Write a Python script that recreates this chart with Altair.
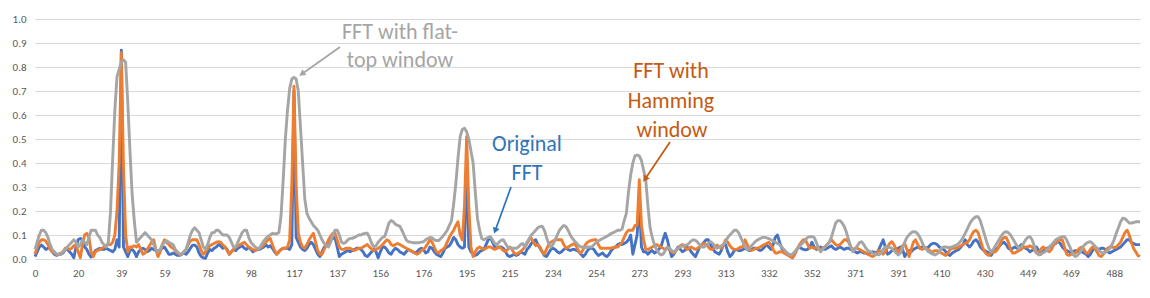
import math
import altair as alt
import pandas as pd

# FFT magnitude per bin (bin k -> k*1000/1024 Hz)
gray = [
0.04,0.07,0.1,0.12,0.12,0.11,0.09,0.06,0.04,0.03,
0.02,0.02,0.02,0.03,0.04,0.05,0.06,0.07,0.08,0.07,
0.05,0.06,0.08,0.07,0.06,0.09,0.12,0.12,0.12,0.1,
0.09,0.07,0.06,0.05,0.07,0.2,0.42,0.62,0.76,0.79,
0.82,0.83,0.82,0.65,0.45,0.27,0.16,0.07,0.08,0.09,
0.1,0.11,0.1,0.09,0.08,0.06,0.04,0.03,0.04,0.06,
0.07,0.076,0.07,0.065,0.06,0.04,0.03,0.02,0.02,0.03,
0.04,0.07,0.1,0.12,0.13,0.12,0.11,0.08,0.05,0.04,
0.06,0.09,0.11,0.11,0.12,0.12,0.11,0.1,0.1,0.1,
0.09,0.07,0.05,0.05,0.07,0.09,0.11,0.12,0.12,0.09,
0.07,0.06,0.05,0.045,0.045,0.06,0.075,0.086,0.095,0.1,
0.107,0.105,0.105,0.11,0.18,0.33,0.5,0.62,0.71,0.75,
0.757,0.75,0.7,0.55,0.4,0.25,0.19,0.17,0.155,0.14,
0.13,0.12,0.1,0.08,0.065,0.055,0.05,0.07,0.1,0.12,
0.12,0.1,0.07,0.065,0.07,0.08,0.086,0.086,0.09,0.095,
0.1,0.1,0.105,0.107,0.107,0.09,0.065,0.05,0.055,0.07,
0.08,0.09,0.093,0.12,0.15,0.16,0.155,0.145,0.14,0.137,
0.12,0.1,0.08,0.072,0.07,0.068,0.068,0.068,0.068,0.07,
0.072,0.08,0.085,0.09,0.088,0.08,0.077,0.076,0.085,0.095,
0.107,0.12,0.14,0.16,0.23,0.315,0.42,0.51,0.54,0.545,
0.53,0.5,0.45,0.4,0.28,0.17,0.12,0.085,0.08,0.085,
0.09,0.093,0.08,0.065,0.06,0.07,0.078,0.08,0.065,0.05,
0.045,0.045,0.045,0.045,0.05,0.06,0.065,0.05,0.07,0.085,
0.1,0.11,0.12,0.13,0.135,0.137,0.12,0.09,0.065,0.05,
0.06,0.08,0.1,0.12,0.13,0.14,0.135,0.12,0.1,0.086,
0.075,0.065,0.055,0.05,0.05,0.048,0.05,0.05,0.05,0.06,
0.07,0.075,0.08,0.085,0.09,0.095,0.1,0.107,0.11,0.115,
0.12,0.12,0.124,0.16,0.19,0.28,0.35,0.4,0.43,0.433,
0.43,0.41,0.37,0.33,0.22,0.13,0.09,0.06,0.04,0.025,
0.017,0.02,0.035,0.05,0.045,0.035,0.03,0.035,0.045,0.05,
0.055,0.058,0.058,0.065,0.075,0.08,0.078,0.07,0.06,0.05,
0.05,0.058,0.065,0.072,0.065,0.055,0.045,0.05,0.055,0.06,
0.07,0.09,0.1,0.11,0.12,0.12,0.11,0.09,0.07,0.05,
0.04,0.045,0.055,0.065,0.075,0.08,0.085,0.09,0.09,0.088,
0.085,0.08,0.075,0.07,0.065,0.06,0.05,0.04,0.03,0.022,
0.017,0.02,0.03,0.04,0.05,0.06,0.07,0.08,0.09,0.093,
0.093,0.09,0.07,0.045,0.03,0.04,0.05,0.06,0.07,0.09,
0.12,0.15,0.16,0.16,0.15,0.135,0.11,0.08,0.05,0.03,
0.04,0.055,0.068,0.072,0.06,0.045,0.035,0.03,0.025,0.02,
0.018,0.017,0.025,0.04,0.05,0.05,0.048,0.045,0.035,0.025,
0.017,0.025,0.045,0.07,0.09,0.1,0.11,0.114,0.113,0.105,
0.09,0.07,0.05,0.04,0.03,0.025,0.02,0.017,0.022,0.03,
0.045,0.05,0.05,0.048,0.048,0.05,0.055,0.058,0.065,0.075,
0.09,0.107,0.125,0.145,0.16,0.17,0.176,0.176,0.16,0.13,
0.1,0.07,0.045,0.03,0.04,0.055,0.07,0.085,0.1,0.11,
0.114,0.11,0.1,0.085,0.07,0.055,0.045,0.05,0.065,0.08,
0.09,0.093,0.08,0.055,0.03,0.017,0.02,0.025,0.03,0.04,
0.05,0.06,0.07,0.08,0.085,0.09,0.093,0.093,0.08,0.06,
0.04,0.02,0.01,0.015,0.025,0.04,0.055,0.065,0.07,0.072,
0.065,0.055,0.045,0.035,0.028,0.024,0.028,0.035,0.045,0.06,
0.08,0.107,0.13,0.155,0.17,0.168,0.16,0.15,0.15,0.152,
0.155,0.155,0.155,
]

orange = [
0.02,0.05,0.07,0.08,0.08,0.075,0.06,0.04,0.03,0.025,
0.02,0.02,0.025,0.03,0.045,0.045,0.04,0.045,0.055,0.06,
0.03,0.005,0.06,0.1,0.107,0.09,0.03,0.01,0.03,0.035,
0.04,0.045,0.05,0.055,0.06,0.06,0.07,0.1,0.2,0.4,
0.86,0.38,0.1,0.03,0.05,0.05,0.055,0.05,0.06,0.04,
0.02,0.025,0.04,0.055,0.07,0.08,0.04,0.01,0.03,0.06,
0.08,0.07,0.06,0.05,0.045,0.035,0.025,0.02,0.02,0.03,
0.04,0.06,0.075,0.08,0.08,0.08,0.06,0.035,0.02,0.03,
0.045,0.055,0.06,0.065,0.07,0.072,0.07,0.06,0.05,0.035,
0.02,0.03,0.04,0.05,0.055,0.06,0.065,0.07,0.06,0.05,
0.045,0.04,0.035,0.04,0.045,0.05,0.06,0.07,0.08,0.086,
0.06,0.035,0.02,0.03,0.04,0.045,0.045,0.05,0.08,0.31,
0.72,0.31,0.107,0.07,0.05,0.045,0.06,0.08,0.095,0.107,
0.07,0.035,0.02,0.02,0.04,0.06,0.08,0.095,0.107,0.107,
0.08,0.05,0.04,0.04,0.045,0.045,0.045,0.04,0.035,0.04,
0.045,0.045,0.05,0.055,0.06,0.05,0.04,0.035,0.04,0.045,
0.05,0.06,0.07,0.08,0.075,0.06,0.055,0.06,0.065,0.06,
0.055,0.05,0.045,0.04,0.035,0.03,0.025,0.02,0.025,0.035,
0.04,0.05,0.065,0.08,0.07,0.05,0.03,0.025,0.035,0.04,
0.05,0.07,0.09,0.107,0.12,0.14,0.155,0.1,0.08,0.22,
0.51,0.22,0.05,0.01,0.03,0.045,0.05,0.045,0.04,0.045,
0.05,0.05,0.045,0.04,0.045,0.05,0.045,0.035,0.03,0.04,
0.05,0.04,0.025,0.02,0.025,0.03,0.04,0.05,0.065,0.08,
0.086,0.07,0.055,0.06,0.05,0.03,0.02,0.04,0.06,0.07,
0.075,0.08,0.08,0.08,0.08,0.06,0.045,0.05,0.055,0.06,
0.065,0.05,0.03,0.025,0.04,0.06,0.07,0.075,0.078,0.08,
0.08,0.06,0.045,0.045,0.045,0.045,0.045,0.045,0.048,0.05,
0.05,0.06,0.07,0.09,0.11,0.12,0.12,0.12,0.14,0.14,
0.33,0.14,0.08,0.04,0.04,0.045,0.05,0.055,0.06,0.055,
0.05,0.045,0.04,0.045,0.04,0.03,0.025,0.035,0.045,0.055,
0.06,0.05,0.04,0.045,0.05,0.045,0.04,0.045,0.05,0.06,
0.065,0.06,0.05,0.04,0.04,0.05,0.058,0.05,0.045,0.06,
0.08,0.07,0.055,0.045,0.04,0.04,0.045,0.05,0.05,0.08,
0.06,0.04,0.035,0.04,0.045,0.045,0.05,0.055,0.06,0.065,
0.07,0.06,0.04,0.025,0.025,0.03,0.03,0.025,0.02,0.015,
0.01,0.005,0.02,0.04,0.055,0.07,0.08,0.08,0.06,0.045,
0.05,0.045,0.045,0.045,0.04,0.045,0.05,0.06,0.07,0.08,
0.07,0.06,0.055,0.06,0.07,0.08,0.08,0.07,0.05,0.04,
0.045,0.045,0.04,0.035,0.03,0.025,0.02,0.015,0.01,0.015,
0.025,0.035,0.03,0.02,0.03,0.05,0.065,0.072,0.06,0.04,
0.03,0.04,0.055,0.065,0.04,0.01,0.04,0.07,0.08,0.06,
0.045,0.04,0.045,0.045,0.04,0.03,0.03,0.035,0.035,0.03,
0.025,0.02,0.015,0.025,0.04,0.045,0.045,0.045,0.05,0.055,
0.06,0.065,0.07,0.08,0.1,0.115,0.12,0.11,0.08,0.05,
0.03,0.02,0.015,0.025,0.03,0.03,0.04,0.06,0.08,0.09,
0.09,0.07,0.04,0.025,0.025,0.03,0.035,0.04,0.05,0.05,
0.05,0.055,0.05,0.04,0.025,0.025,0.04,0.05,0.045,0.035,
0.03,0.04,0.06,0.07,0.075,0.08,0.08,0.05,0.02,0.015,
0.02,0.02,0.025,0.035,0.045,0.05,0.04,0.025,0.025,0.04,
0.05,0.045,0.03,0.015,0.01,0.02,0.035,0.045,0.05,0.05,
0.048,0.05,0.06,0.07,0.09,0.11,0.12,0.1,0.07,0.045,
0.03,0.015,0.01,
]

blue = [
0.01,0.03,0.05,0.058,0.05,0.04,0.045,0.05,0.03,0.02,
0.015,0.02,0.02,0.025,0.04,0.04,0.03,0.02,0.005,0.05,
0.08,0.086,0.08,0.05,0.04,0.02,0.008,0.02,0.035,0.04,
0.045,0.04,0.04,0.045,0.04,0.035,0.03,0.04,0.08,0.05,
0.87,0.05,0.03,0.01,0.035,0.04,0.03,0.01,0.03,0.04,
0.045,0.04,0.03,0.035,0.045,0.04,0.035,0.03,0.04,0.045,
0.05,0.035,0.02,0.02,0.025,0.02,0.015,0.015,0.02,0.025,
0.02,0.03,0.045,0.058,0.058,0.05,0.025,0.01,0.005,0.003,
0.025,0.04,0.035,0.045,0.05,0.06,0.055,0.045,0.05,0.04,
0.02,0.03,0.04,0.035,0.045,0.05,0.055,0.045,0.04,0.05,
0.04,0.03,0.035,0.04,0.04,0.045,0.05,0.06,0.05,0.055,
0.045,0.03,0.02,0.03,0.04,0.045,0.045,0.045,0.04,0.06,
0.7,0.09,0.07,0.05,0.04,0.035,0.045,0.06,0.07,0.06,
0.04,0.02,0.01,0.03,0.05,0.055,0.07,0.08,0.085,0.09,
0.05,0.01,0.02,0.025,0.03,0.035,0.03,0.035,0.04,0.045,
0.045,0.04,0.03,0.015,0.01,0.02,0.03,0.04,0.03,0.005,
0.03,0.05,0.05,0.04,0.025,0.02,0.035,0.045,0.04,0.03,
0.025,0.02,0.03,0.04,0.035,0.03,0.025,0.03,0.04,0.045,
0.04,0.025,0.03,0.05,0.045,0.03,0.02,0.015,0.01,0.025,
0.045,0.05,0.055,0.07,0.09,0.08,0.06,0.05,0.045,0.05,
0.42,0.05,0.03,0.02,0.015,0.02,0.03,0.035,0.04,0.06,
0.08,0.09,0.07,0.05,0.045,0.05,0.05,0.045,0.03,0.015,
0.01,0.015,0.02,0.015,0.02,0.03,0.025,0.02,0.04,0.05,
0.065,0.075,0.08,0.06,0.045,0.03,0.015,0.01,0.025,0.04,
0.045,0.04,0.03,0.025,0.03,0.04,0.045,0.04,0.035,0.04,
0.04,0.035,0.03,0.02,0.01,0.02,0.035,0.045,0.045,0.04,
0.025,0.015,0.02,0.025,0.015,0.01,0.02,0.035,0.045,0.05,
0.06,0.065,0.06,0.065,0.07,0.08,0.1,0.02,0.06,0.1,
0.25,0.05,0.03,0.03,0.02,0.03,0.035,0.025,0.03,0.04,
0.05,0.08,0.107,0.08,0.04,0.01,0.02,0.035,0.05,0.04,
0.03,0.035,0.05,0.045,0.03,0.02,0.01,0.03,0.05,0.06,
0.07,0.08,0.08,0.06,0.045,0.03,0.025,0.02,0.035,0.06,
0.06,0.03,0.01,0.02,0.035,0.04,0.035,0.035,0.04,0.045,
0.04,0.035,0.04,0.045,0.045,0.04,0.035,0.04,0.05,0.06,
0.05,0.04,0.06,0.09,0.1,0.07,0.045,0.035,0.025,0.02,
0.01,0.005,0.02,0.04,0.05,0.045,0.04,0.038,0.04,0.05,
0.07,0.05,0.04,0.045,0.05,0.045,0.04,0.045,0.05,0.055,
0.045,0.04,0.045,0.05,0.045,0.04,0.045,0.045,0.04,0.035,
0.03,0.025,0.03,0.03,0.025,0.025,0.02,0.025,0.03,0.028,
0.025,0.04,0.06,0.08,0.05,0.02,0.025,0.035,0.04,0.04,
0.045,0.05,0.04,0.01,0.025,0.035,0.03,0.04,0.045,0.05,
0.045,0.05,0.05,0.045,0.05,0.06,0.065,0.065,0.06,0.05,
0.045,0.04,0.03,0.02,0.015,0.025,0.03,0.035,0.04,0.05,
0.06,0.08,0.06,0.05,0.06,0.075,0.08,0.07,0.05,0.04,
0.035,0.03,0.025,0.015,0.03,0.04,0.045,0.055,0.065,0.07,
0.06,0.045,0.04,0.045,0.05,0.045,0.05,0.06,0.05,0.045,
0.04,0.03,0.035,0.045,0.05,0.035,0.02,0.03,0.04,0.045,
0.05,0.05,0.06,0.065,0.075,0.065,0.05,0.04,0.035,0.03,
0.025,0.03,0.035,0.03,0.035,0.03,0.025,0.02,0.01,0.02,
0.035,0.045,0.045,0.04,0.045,0.045,0.04,0.03,0.025,0.03,
0.035,0.04,0.045,0.05,0.06,0.07,0.08,0.08,0.07,0.065,
0.06,0.06,0.06,
]

if not (len(gray) == len(orange) == len(blue)):
    raise SystemExit(f"lengths differ: {len(blue)} {len(orange)} {len(gray)}")

n = len(blue)
label_bins = list(range(0, n, 20))
y_ticks = [i / 10 for i in range(11)]

FONT = "Carlito, Lato, 'Open Sans', sans-serif"
AXIS_COLOR = "#595959"
GRID = "#D9D9D9"

df = pd.DataFrame({"bin": list(range(n)), "blue": blue, "orange": orange, "gray": gray})

x_axis = alt.Axis(values=label_bins,
                  labelExpr="format(datum.value*1000/1024, '.0f')",
                  grid=False, ticks=False, domain=True, domainColor=GRID, domainWidth=1,
                  labelColor=AXIS_COLOR, labelFont=FONT, labelFontSize=11,
                  labelPadding=8, labelOverlap=False, labelFlush=False, title=None)
y_axis = alt.Axis(values=y_ticks, format=".1f", grid=True, gridColor=GRID, gridWidth=1,
                  ticks=False, domain=False, labelColor=AXIS_COLOR, labelFont=FONT,
                  labelFontSize=11, labelPadding=9, title=None)


def line_layer(col, color):
    return alt.Chart(df).mark_line(color=color, strokeWidth=2.9, strokeJoin="round").encode(
        x=alt.X("bin:Q", scale=alt.Scale(domain=[0, n - 1], nice=False, zero=False), axis=x_axis),
        y=alt.Y(f"{col}:Q", scale=alt.Scale(domain=[0, 1], nice=False), axis=y_axis),
    )


lines = [line_layer("blue", "#4472C4"), line_layer("orange", "#ED7D31"), line_layer("gray", "#A5A5A5")]

# annotations (pixel positions inside the plot area)
PAD_L, PAD_T = 35, 19
ann_text = pd.DataFrame([
    {"t": "FFT with flat-", "px": 400, "py": 39, "c": "#A5A5A5"},
    {"t": "top window", "px": 400, "py": 67, "c": "#A5A5A5"},
    {"t": "Original", "px": 527, "py": 151, "c": "#2E75B6"},
    {"t": "FFT", "px": 527, "py": 180, "c": "#2E75B6"},
    {"t": "FFT with", "px": 671, "py": 78, "c": "#C55A11"},
    {"t": "Hamming", "px": 671, "py": 108, "c": "#C55A11"},
    {"t": "window", "px": 672, "py": 137, "c": "#C55A11"},
])
ann_text["px"] = ann_text["px"] - PAD_L
ann_text["py"] = ann_text["py"] - PAD_T

texts = alt.Chart(ann_text).mark_text(font=FONT, fontSize=22, align="center", baseline="alphabetic").encode(
    x=alt.X("px:Q", scale=None), y=alt.Y("py:Q", scale=None),
    text="t:N", color=alt.Color("c:N", scale=None),
)

arrows = [
    ((340, 47), (299, 76), "#A5A5A5"),
    ((511, 187), (494, 234), "#2E75B6"),
    ((670, 142), (643, 182), "#C55A11"),
]
arrow_rows = []
head_rows = []
for (x1, y1), (x2, y2), c in arrows:
    dx, dy = x2 - x1, y2 - y1
    L = math.hypot(dx, dy)
    ux, uy = dx / L, dy / L
    ang = math.degrees(math.atan2(dx, -dy)) % 360
    arrow_rows.append({"x1": x1 - PAD_L, "y1": y1 - PAD_T,
                       "x2": x2 - 4 * ux - PAD_L, "y2": y2 - 4 * uy - PAD_T, "c": c})
    head_rows.append({"hx": x2 - 3.5 * ux - PAD_L, "hy": y2 - 3.5 * uy - PAD_T, "a": ang, "c": c})

arrow_df = pd.DataFrame(arrow_rows)
head_df = pd.DataFrame(head_rows)

arrow_lines = alt.Chart(arrow_df).mark_rule(strokeWidth=1.75).encode(
    x=alt.X("x1:Q", scale=None), y=alt.Y("y1:Q", scale=None),
    x2="x2:Q", y2="y2:Q", color=alt.Color("c:N", scale=None),
)
arrow_heads = alt.Chart(head_df).mark_point(shape="triangle-up", filled=True, size=50, opacity=1).encode(
    x=alt.X("hx:Q", scale=None), y=alt.Y("hy:Q", scale=None),
    angle=alt.Angle("a:Q", scale=None), color=alt.Color("c:N", scale=None),
)

chart = alt.layer(*lines, texts, arrow_lines, arrow_heads).properties(
    width=1105, height=240,
    padding={"left": PAD_L, "top": PAD_T, "right": 10, "bottom": 39},
    autosize=alt.AutoSizeParams(type="none"),
    background="white",
).configure_view(stroke=None)

chart.save("out.html", embed_options={"renderer": "svg", "actions": False})
